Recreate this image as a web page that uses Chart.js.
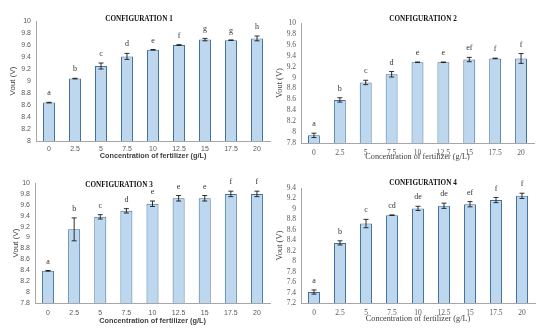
<!DOCTYPE html>
<html>
<head>
<meta charset="utf-8">
<script src="https://cdn.jsdelivr.net/npm/chart.js@4.4.0/dist/chart.umd.min.js"></script>
<style>
  html, body { margin: 0; padding: 0; background: #fff; }
  #wrap { position: relative; width: 550px; height: 334px; overflow: hidden; background: #fff; }
  .panel { position: absolute; width: 275px; height: 167px; }
</style>
</head>
<body>
<div id="wrap">
  <div class="panel" style="left:0px;top:0px"><canvas id="chart1" width="275" height="167"></canvas></div>
  <div class="panel" style="left:275px;top:0px"><canvas id="chart2" width="275" height="167"></canvas></div>
  <div class="panel" style="left:0px;top:167px"><canvas id="chart3" width="275" height="167"></canvas></div>
  <div class="panel" style="left:275px;top:167px"><canvas id="chart4" width="275" height="167"></canvas></div>
</div>
<script>
// Datos
const concentrations = ['0', '2.5', '5', '7.5', '10', '12.5', '15', '17.5', '20'];

const config1Vout = [8.64, 9.04, 9.25, 9.41, 9.52, 9.60, 9.69, 9.68, 9.71];
const config1Err = [0.005, 0.005, 0.05, 0.05, 0.005, 0.005, 0.02, 0.005, 0.04];
const config1Letters = ['a', 'b', 'c', 'd', 'e', 'f', 'g', 'g', 'h'];
const config1Ticks = [8, 8.2, 8.4, 8.6, 8.8, 9, 9.2, 9.4, 9.6, 9.8, 10];

const config2Vout = [7.94, 8.59, 8.91, 9.06, 9.28, 9.28, 9.33, 9.35, 9.35];
const config2Err = [0.04, 0.04, 0.04, 0.05, 0.005, 0.005, 0.04, 0.005, 0.09];
const config2Letters = ['a', 'b', 'c', 'd', 'e', 'e', 'ef', 'f', 'f'];
const config2Ticks = [7.8, 8, 8.2, 8.4, 8.6, 8.8, 9, 9.2, 9.4, 9.6, 9.8, 10];

const config3Vout = [8.39, 9.15, 9.38, 9.49, 9.62, 9.72, 9.72, 9.80, 9.80];
const config3Err = [0.005, 0.21, 0.04, 0.04, 0.05, 0.05, 0.05, 0.05, 0.05];
const config3Letters = ['a', 'b', 'c', 'd', 'e', 'e', 'e', 'f', 'f'];
const config3Ticks = [7.8, 8, 8.2, 8.4, 8.6, 8.8, 9, 9.2, 9.4, 9.6, 9.8, 10];

const config4Vout = [7.41, 8.35, 8.72, 8.88, 9.01, 9.06, 9.09, 9.17, 9.25];
const config4Err = [0.04, 0.04, 0.08, 0.005, 0.04, 0.05, 0.05, 0.05, 0.05];
const config4Letters = ['a', 'b', 'c', 'cd', 'de', 'de', 'ef', 'f', 'f'];
const config4Ticks = [7.2, 7.4, 7.6, 7.8, 8, 8.2, 8.4, 8.6, 8.8, 9, 9.2, 9.4];

const SANS = '"Liberation Sans", Arial, sans-serif';
const SERIF = '"Liberation Serif", "Times New Roman", serif';
const W = 275, H = 167;

// Barras de error y letras encima de cada barra
const errorBarsPlugin = {
    id: 'errorBars',
    afterDatasetsDraw(chart, args, opts) {
        const ctx = chart.ctx;
        const yScale = chart.scales.y;
        const meta = chart.getDatasetMeta(0);
        ctx.save();
        meta.data.forEach((bar, i) => {
            const v = opts.values[i];
            const e = opts.errors[i];
            const yTop = yScale.getPixelForValue(v + e);
            const yBot = yScale.getPixelForValue(v - e);
            ctx.strokeStyle = '#1a1a1a';
            ctx.lineWidth = 0.9;
            ctx.beginPath();
            ctx.moveTo(bar.x, yTop);
            ctx.lineTo(bar.x, yBot);
            ctx.moveTo(bar.x - 2.5, yTop);
            ctx.lineTo(bar.x + 2.5, yTop);
            ctx.moveTo(bar.x - 2.5, yBot);
            ctx.lineTo(bar.x + 2.5, yBot);
            ctx.stroke();

            ctx.fillStyle = '#333';
            ctx.font = '8px ' + SERIF;
            ctx.textAlign = 'center';
            ctx.textBaseline = 'middle';
            ctx.fillText(opts.letters[i], bar.x, yTop - 9);
        });
        // titulo del panel
        ctx.fillStyle = '#111';
        ctx.font = 'bold 7.2px ' + SERIF;
        ctx.textAlign = 'center';
        ctx.textBaseline = 'middle';
        ctx.fillText(opts.title, opts.titleX, opts.titleY);
        ctx.restore();
    }
};

function crearGrafico(p) {
    const ctx = document.getElementById(p.id).getContext('2d');
    const tickFont = p.serif ? { family: SERIF, size: 7.5 } : { family: SANS, size: 7 };
    const xTitleFont = p.serif ? { family: SERIF, size: 8.2 } : { family: SANS, size: 7.3, weight: 'bold' };
    const yTitleFont = p.serif ? { family: SERIF, size: 8.5 } : { family: SANS, size: 8 };

    return new Chart(ctx, {
        type: 'bar',
        data: {
            labels: concentrations,
            datasets: [{
                data: p.values,
                backgroundColor: '#bdd7ee',
                borderColor: '#41719c',
                borderWidth: 1,
                categoryPercentage: 1,
                barPercentage: 0.46
            }]
        },
        options: {
            responsive: false,
            animation: false,
            devicePixelRatio: 1,
            layout: { padding: { left: 0, right: W - p.area.right, top: p.area.top, bottom: 0 } },
            plugins: {
                legend: { display: false },
                tooltip: { enabled: false },
                errorBars: {
                    values: p.values, errors: p.errors, letters: p.letters,
                    title: p.title, titleX: p.titleX, titleY: p.titleY
                }
            },
            scales: {
                x: {
                    grid: { display: false, drawTicks: false },
                    border: { display: true, color: '#a6a6a6', width: 1 },
                    ticks: { color: '#595959', font: tickFont, padding: p.xTickPad, autoSkip: false, maxRotation: 0 },
                    title: {
                        display: true,
                        text: 'Concentration of fertilizer (g/L)',
                        color: '#404040',
                        font: xTitleFont,
                        padding: { top: 0, bottom: p.xTitlePad }
                    },
                    afterFit: s => { s.height = H - p.area.bottom; }
                },
                y: {
                    min: p.ticks[0],
                    max: p.ticks[p.ticks.length - 1],
                    grid: { display: false, drawTicks: false },
                    border: { display: true, color: '#a6a6a6', width: 1 },
                    afterBuildTicks: s => { s.ticks = p.ticks.map(v => ({ value: v })); },
                    ticks: {
                        color: '#595959',
                        font: tickFont,
                        padding: 5,
                        autoSkip: false,
                        callback: v => String(Math.round(v * 10) / 10)
                    },
                    title: {
                        display: true,
                        text: 'Vout (V)',
                        color: '#404040',
                        font: yTitleFont,
                        padding: { top: p.yTitlePad, bottom: 0 }
                    },
                    afterFit: s => { s.width = p.area.left; }
                }
            }
        },
        plugins: [errorBarsPlugin]
    });
}

document.addEventListener('DOMContentLoaded', function() {
    crearGrafico({
        id: 'chart1', title: 'CONFIGURATION 1', titleX: 139, titleY: 19, serif: false,
        values: config1Vout, errors: config1Err, letters: config1Letters, ticks: config1Ticks,
        area: { left: 36, right: 270, top: 21, bottom: 141 },
        xTickPad: 3.8, xTitlePad: 6.6, yTitlePad: 8
    });
    crearGrafico({
        id: 'chart2', title: 'CONFIGURATION 2', titleX: 148, titleY: 19, serif: true,
        values: config2Vout, errors: config2Err, letters: config2Letters, ticks: config2Ticks,
        area: { left: 26, right: 259, top: 23, bottom: 143 },
        xTickPad: 5.5, xTitlePad: 5, yTitlePad: 0
    });
    crearGrafico({
        id: 'chart3', title: 'CONFIGURATION 3', titleX: 119, titleY: 18, serif: false,
        values: config3Vout, errors: config3Err, letters: config3Letters, ticks: config3Ticks,
        area: { left: 35, right: 270, top: 16, bottom: 136 },
        xTickPad: 5.8, xTitlePad: 8.6, yTitlePad: 11
    });
    crearGrafico({
        id: 'chart4', title: 'CONFIGURATION 4', titleX: 148, titleY: 16, serif: true,
        values: config4Vout, errors: config4Err, letters: config4Letters, ticks: config4Ticks,
        area: { left: 26, right: 260, top: 21, bottom: 136 },
        xTickPad: 5.5, xTitlePad: 10, yTitlePad: 0
    });
});
</script>
</body>
</html>
